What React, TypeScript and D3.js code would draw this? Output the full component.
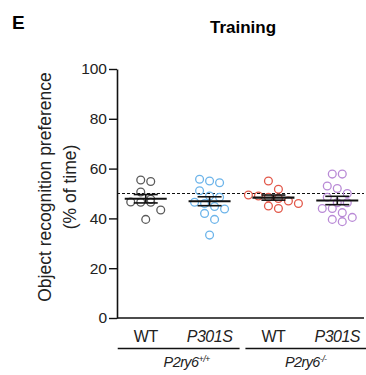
import { useEffect, useRef } from "react";
import * as d3 from "d3";

// groups along the x axis
const groups = ["WT_pp", "P301S_pp", "WT_mm", "P301S_mm"];
const groupLabels = ["WT", "P301S", "WT", "P301S"];
const groupItalic = [false, true, false, true];
const groupColors = ["#5a5a5a", "#6cb4ea", "#e2584a", "#b98ad6"];

// values (% of time)
const wtPP = [55.4, 54.8, 50.6, 47.7, 46.5, 46.5, 46.6, 43.4, 39.6];
const p301sPP = [55.7, 55.0, 54.3, 51.1, 49.0, 48.5, 46.5, 46.0, 44.8, 43.8, 42.0, 39.6, 33.3];
const wtMM = [55.0, 51.7, 49.4, 49.0, 48.5, 48.0, 46.0, 45.0, 44.0, 47.0];
const p301sMM = [57.8, 57.8, 53.0, 52.0, 50.0, 48.5, 46.3, 46.3, 44.0, 44.0, 42.3, 40.4, 39.6, 38.7];
const seriesValues = [wtPP, p301sPP, wtMM, p301sMM];

const yTicks = [0, 20, 40, 60, 80, 100];
const chanceLevel = 50;

// genotype brackets: which groups each spans
const genotypeNames = ["P2ry6", "P2ry6"];
const genotypeSups = ["+/+", "-/-"];
const genotypeSpans = [[0, 1], [2, 3]];

const FONT = "'Liberation Sans', Arial, Helvetica, sans-serif";

function App() {
  const svgRef = useRef<SVGSVGElement | null>(null);
  const width = 366;
  const height = 375;

  useEffect(() => {
    const svg = d3.select(svgRef.current);
    svg.selectAll("*").remove();

    const axisLeftX = 117;
    const axisRightX = 364;

    const y = d3.scaleLinear().domain([0, 100]).range([318, 69]);
    const x = d3
      .scalePoint<string>()
      .domain(groups)
      .range([axisLeftX, 366])
      .padding(0.45);

    const r = 3.9;
    const spacing = 10;

    // panel letter + title
    svg.append("text")
      .attr("x", 12).attr("y", 29)
      .attr("font-family", FONT).attr("font-weight", "bold").attr("font-size", 19)
      .text("E");
    svg.append("text")
      .attr("x", 243).attr("y", 33)
      .attr("text-anchor", "middle")
      .attr("font-family", FONT).attr("font-weight", "bold").attr("font-size", 17)
      .text("Training");

    // y axis
    const yAxis = svg.append("g")
      .attr("transform", `translate(${axisLeftX},0)`)
      .call(d3.axisLeft(y).tickValues(yTicks).tickSize(8).tickPadding(2).tickSizeOuter(0));
    yAxis.select(".domain").attr("stroke", "#111").attr("stroke-width", 1.6);
    yAxis.selectAll(".tick line").attr("stroke", "#111").attr("stroke-width", 1.4);
    yAxis.selectAll(".tick text")
      .attr("font-family", FONT).attr("font-size", 15.5).attr("fill", "#222");

    // x axis line
    svg.append("line")
      .attr("x1", axisLeftX).attr("x2", axisRightX)
      .attr("y1", y(0)).attr("y2", y(0))
      .attr("stroke", "#111").attr("stroke-width", 1.6);

    // y title, two lines
    [["Object recognition preference", 50.5], ["(% of time)", 75.5]].forEach(([t, bx]) => {
      svg.append("text")
        .attr("transform", `translate(${bx},${187}) rotate(-90)`)
        .attr("font-family", FONT).attr("font-size", 17.5).attr("fill", "#222")
        .attr("text-anchor", "middle")
        .text(t as string);
    });

    // chance line
    svg.append("line")
      .attr("x1", axisLeftX).attr("x2", axisRightX)
      .attr("y1", y(chanceLevel)).attr("y2", y(chanceLevel))
      .attr("stroke", "#111").attr("stroke-width", 1)
      .attr("stroke-dasharray", "3,2");

    // points (rows of similar values centred on the group, Prism style)
    seriesValues.forEach((vals, gi) => {
      const cx = x(groups[gi]) as number;
      const sorted = [...vals].sort((a, b) => b - a);
      const rows: number[][] = [];
      sorted.forEach((v) => {
        const last = rows[rows.length - 1];
        if (last && Math.abs(y(last[0]) - y(v)) < 2 * r + 1.5) last.push(v);
        else rows.push([v]);
      });
      const pts: { v: number; px: number }[] = [];
      rows.forEach((row) => {
        row.forEach((v, i) => pts.push({ v, px: cx + (i - (row.length - 1) / 2) * spacing }));
      });
      svg.append("g")
        .selectAll("circle")
        .data(pts)
        .enter()
        .append("circle")
        .attr("cx", (d) => d.px)
        .attr("cy", (d) => y(d.v))
        .attr("r", r)
        .attr("fill", "none")
        .attr("stroke", groupColors[gi])
        .attr("stroke-width", 1.3);

      // mean +/- SEM
      const m = d3.mean(vals) as number;
      const sem = (d3.deviation(vals) as number) / Math.sqrt(vals.length);
      const g = svg.append("g").attr("stroke", "#111");
      g.append("line")
        .attr("x1", cx - 21).attr("x2", cx + 21)
        .attr("y1", y(m)).attr("y2", y(m))
        .attr("stroke-width", 2.2);
      g.append("line")
        .attr("x1", cx).attr("x2", cx)
        .attr("y1", y(m - sem)).attr("y2", y(m + sem))
        .attr("stroke-width", 1.6);
      [m - sem, m + sem].forEach((v) => {
        g.append("line")
          .attr("x1", cx - 12).attr("x2", cx + 12)
          .attr("y1", y(v)).attr("y2", y(v))
          .attr("stroke-width", 1.6);
      });
    });

    // group labels
    groups.forEach((gname, gi) => {
      svg.append("text")
        .attr("x", x(gname) as number).attr("y", 341.5)
        .attr("text-anchor", "middle")
        .attr("font-family", FONT).attr("font-size", 16).attr("fill", "#222")
        .attr("font-style", groupItalic[gi] ? "italic" : "normal")
        .attr("letter-spacing", -0.5)
        .text(groupLabels[gi]);
    });

    // genotype brackets
    genotypeSpans.forEach(([a, b], k) => {
      const x1 = (x(groups[a]) as number) - 28;
      const x2 = Math.min((x(groups[b]) as number) + 30, 366);
      svg.append("line")
        .attr("x1", x1).attr("x2", x2)
        .attr("y1", 348.5).attr("y2", 348.5)
        .attr("stroke", "#111").attr("stroke-width", 1.4);
      const t = svg.append("text")
        .attr("x", (x1 + x2) / 2 + (k === 0 ? 8 : 0)).attr("y", 367)
        .attr("text-anchor", "middle")
        .attr("font-family", FONT).attr("font-size", 14.5).attr("fill", "#222")
        .attr("font-style", "italic")
        .attr("letter-spacing", -0.6);
      t.append("tspan").text(genotypeNames[k]);
      t.append("tspan")
        .attr("font-size", 9)
        .attr("dy", -5)
        .text(genotypeSups[k]);
    });
  }, []);

  return (
    <svg
      ref={svgRef}
      width={width}
      height={height}
      style={{ position: "absolute", left: 0, top: 0, background: "#fff" }}
    />
  );
}

export default App;
